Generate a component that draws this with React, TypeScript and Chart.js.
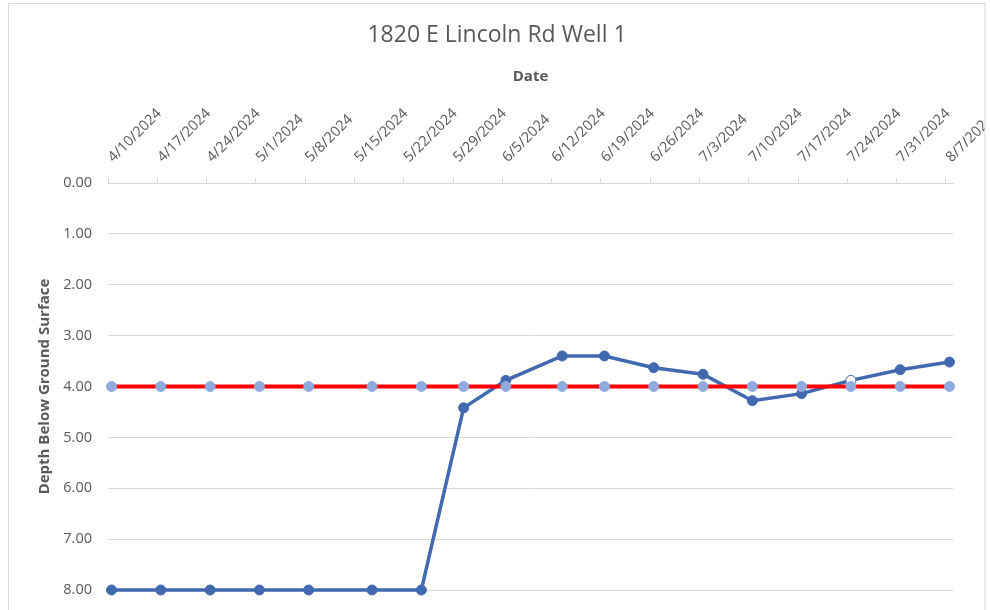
import React, { useEffect, useRef } from "react";
import { Chart, registerables } from "chart.js";

Chart.register(...registerables);

// ---- data ----
const chartTitle = "1820 E Lincoln Rd Well 1";
const xAxisTitle = "Date";
const yAxisTitle = "Depth Below Ground Surface";

const axisStart = "2024-04-10T00:00:00Z";
const axisEnd = "2024-08-08T00:00:00Z";

const tickLabels = [
  "4/10/2024", "4/17/2024", "4/24/2024", "5/1/2024", "5/8/2024", "5/15/2024",
  "5/22/2024", "5/29/2024", "6/5/2024", "6/12/2024", "6/19/2024", "6/26/2024",
  "7/3/2024", "7/10/2024", "7/17/2024", "7/24/2024", "7/31/2024", "8/7/2024",
];

const sampleDates = [
  "2024-04-10T12:00:00Z", "2024-04-17T12:00:00Z", "2024-04-24T12:00:00Z",
  "2024-05-01T12:00:00Z", "2024-05-08T12:00:00Z", "2024-05-17T12:00:00Z",
  "2024-05-24T12:00:00Z", "2024-05-30T12:00:00Z", "2024-06-05T12:00:00Z",
  "2024-06-13T12:00:00Z", "2024-06-19T12:00:00Z", "2024-06-26T12:00:00Z",
  "2024-07-03T12:00:00Z", "2024-07-10T12:00:00Z", "2024-07-17T12:00:00Z",
  "2024-07-24T12:00:00Z", "2024-07-31T12:00:00Z", "2024-08-07T12:00:00Z",
];

const depthValues = [
  8.0, 8.0, 8.0, 8.0, 8.0, 8.0, 8.0, 4.42, 3.88, 3.4, 3.4, 3.63, 3.76, 4.28,
  4.14, 3.88, 3.67, 3.52,
];

const thresholdValues = [
  4.0, 4.0, 4.0, 4.0, 4.0, 4.0, 4.0, 4.0, 4.0, 4.0, 4.0, 4.0, 4.0, 4.0, 4.0,
  4.0, 4.0, 4.0,
];

const hollowPointIndex = 15;

const yTickValues = [0, 1, 2, 3, 4, 5, 6, 7, 8];

// ---- helpers ----
const DAY = 86400000;
const startMs = Date.parse(axisStart);
const toDays = (iso: string) => (Date.parse(iso) - startMs) / DAY;
const labelToDays = (label: string) => {
  const [m, d, y] = label.split("/").map(Number);
  return (Date.UTC(y, m - 1, d) - startMs) / DAY;
};

const FONT = "'Open Sans', 'Liberation Sans', sans-serif";
const TEXT = "#595959";
const GRID = "#d9d9d9";

export default function App() {
  const ref = useRef<HTMLCanvasElement | null>(null);

  useEffect(() => {
    if (!ref.current) return;
    const tickDays = tickLabels.map(labelToDays);

    const frame = {
      id: "frame",
      afterDraw(chart: any) {
        const { ctx } = chart;
        ctx.save();
        ctx.fillStyle = "#ffffff";
        ctx.fillRect(985, 0, 10, 610);
        ctx.strokeStyle = GRID;
        ctx.lineWidth = 1;
        ctx.strokeRect(8.5, 3.5, 976.5, 700);
        ctx.fillStyle = TEXT;
        ctx.font = `23px ${FONT}`;
        ctx.textAlign = "center";
        ctx.textBaseline = "middle";
        ctx.fillText(chartTitle, 497, 35);
        ctx.restore();
      },
    };

    const chart = new Chart(ref.current, {
      type: "line",
      data: {
        datasets: [
          {
            label: "Threshold",
            data: sampleDates.map((d, i) => ({ x: toDays(d), y: thresholdValues[i] })),
            borderColor: "#FF0000",
            borderWidth: 4,
            pointRadius: 5,
            pointBackgroundColor: "#8FAADC",
            pointBorderColor: "#8FAADC",
            pointBorderWidth: 1,
            clip: false,
            order: 0,
          },
          {
            label: "Depth",
            data: sampleDates.map((d, i) => ({ x: toDays(d), y: depthValues[i] })),
            borderColor: "#4169B0",
            borderWidth: 3.5,
            pointRadius: 5,
            pointBackgroundColor: depthValues.map((_, i) =>
              i === hollowPointIndex ? "#ffffff" : "#4169B0"
            ),
            pointBorderColor: "#4169B0",
            pointBorderWidth: 1,
            clip: false,
            order: 1,
          },
        ],
      },
      options: {
        animation: false,
        responsive: false,
        layout: { padding: { left: 32, right: 37, top: 64, bottom: 20 } },
        plugins: {
          legend: { display: false },
          title: { display: false },
          tooltip: { enabled: false },
        },
        scales: {
          x: {
            type: "linear",
            position: "top",
            min: 0,
            max: toDays(axisEnd),
            afterBuildTicks: (s: any) => {
              s.ticks = tickDays.map((v) => ({ value: v }));
            },
            afterFit: (s: any) => {
              s.height = 119;
              s.paddingLeft = 0;
              s.paddingRight = 0;
              s.paddingTop = 0;
              s.paddingBottom = 0;
            },
            ticks: {
              autoSkip: false,
              maxRotation: 45,
              minRotation: 45,
              padding: 12,
              labelOffset: 15,
              color: TEXT,
              font: { family: FONT, size: 14.5 },
              callback: (_v: any, i: number) => tickLabels[i],
            },
            grid: {
              drawOnChartArea: false,
              drawTicks: true,
              tickLength: 5,
              color: GRID,
            },
            border: { display: true, color: GRID },
            title: {
              display: true,
              text: xAxisTitle,
              color: TEXT,
              font: { family: FONT, size: 15, weight: "bold" },
            },
          },
          y: {
            type: "linear",
            min: 0,
            max: 8,
            reverse: true,
            afterBuildTicks: (s: any) => {
              s.ticks = yTickValues.map((v) => ({ value: v }));
            },
            afterFit: (s: any) => {
              s.width = 76;
              s.paddingLeft = 0;
              s.paddingRight = 0;
              s.paddingTop = 0;
              s.paddingBottom = 0;
            },
            ticks: {
              padding: 16,
              color: TEXT,
              font: { family: FONT, size: 14.5 },
              callback: (v: any) => Number(v).toFixed(2),
            },
            grid: { color: GRID, drawTicks: false },
            border: { display: false },
            title: {
              display: true,
              text: yAxisTitle,
              color: TEXT,
              font: { family: FONT, size: 15, weight: "bold" },
            },
          },
        },
      },
      plugins: [frame],
    } as any);

    return () => chart.destroy();
  }, []);

  return (
    <div style={{ position: "fixed", left: 0, top: 0, width: 990, height: 610, background: "#fff" }}>
      <canvas ref={ref} width={990} height={610} style={{ display: "block", width: 990, height: 610 }} />
    </div>
  );
}
